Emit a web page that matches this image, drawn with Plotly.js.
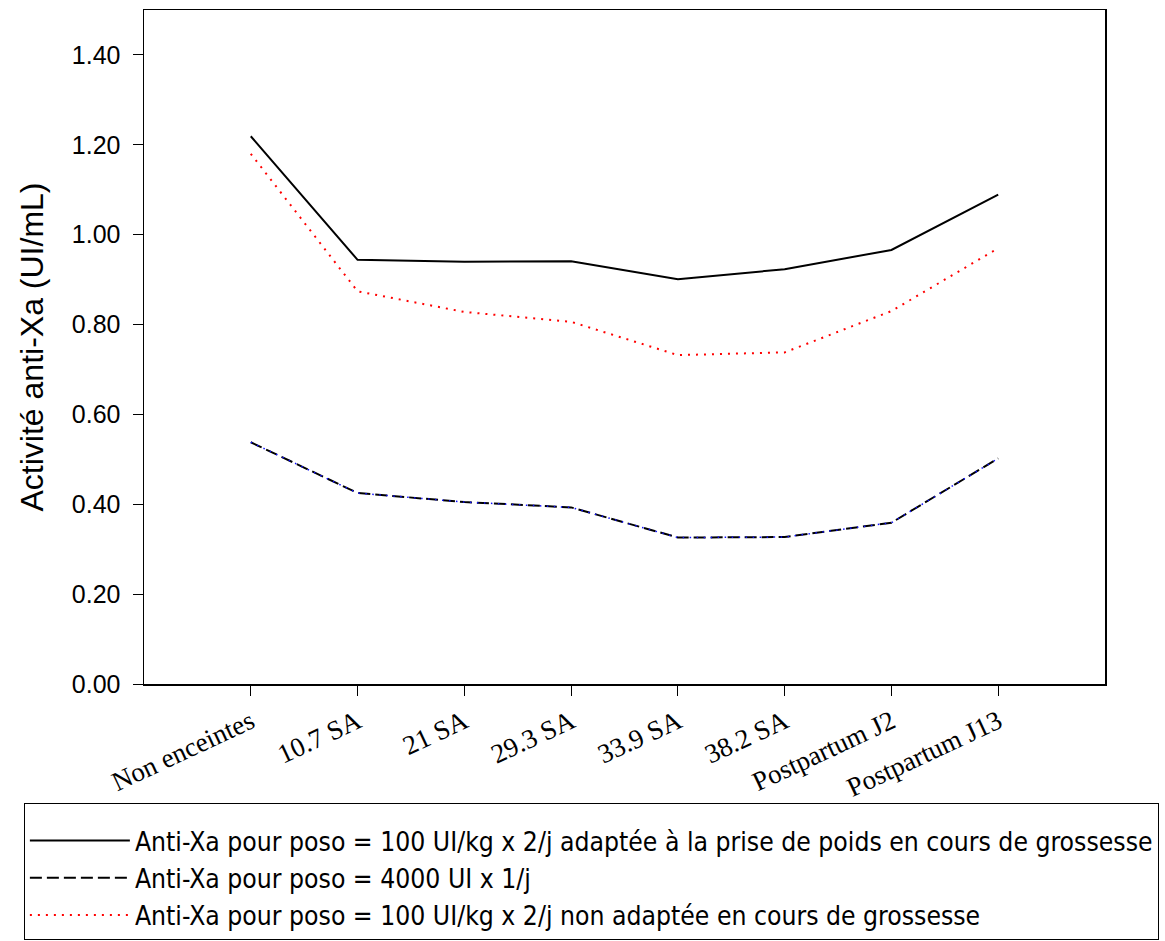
<!DOCTYPE html>
<html>
<head>
<meta charset="utf-8">
<script src="https://cdn.plot.ly/plotly-3.0.1.min.js"></script>
<style>html,body{margin:0;padding:0;background:#fff;}#chart{width:1165px;height:941px;}</style>
</head>
<body>
<div id="chart"></div>
<script>
// Categories (x axis)
const categories = ["Non enceintes", "10.7 SA", "21 SA", "29.3 SA", "33.9 SA", "38.2 SA", "Postpartum J2", "Postpartum J13"];

// Series values (Anti-Xa activity, UI/mL)
const adapted = [1.219, 0.944, 0.940, 0.941, 0.901, 0.923, 0.966, 1.089];
const fixedDose = [0.538, 0.425, 0.405, 0.393, 0.326, 0.327, 0.359, 0.502];
const notAdapted = [1.180, 0.874, 0.828, 0.806, 0.732, 0.738, 0.830, 0.970];

// Series names (legend)
const nameAdapted = "Anti-Xa pour poso = 100 UI/kg x 2/j adaptée à la prise de poids en cours de grossesse";
const nameFixed = "Anti-Xa pour poso = 4000 UI x 1/j";
const nameNotAdapted = "Anti-Xa pour poso = 100 UI/kg x 2/j non adaptée en cours de grossesse";

// Y tick values
const yTicks = [0, 0.2, 0.4, 0.6, 0.8, 1.0, 1.2, 1.4];
const yAxisTitle = "Activité anti-Xa (UI/mL)";

const traces = [
  {
    x: categories, y: adapted, type: "scatter", mode: "lines", name: nameAdapted,
    line: {color: "#000000", width: 2}, legendgroup: "g1"
  },
  {
    x: categories, y: fixedDose, type: "scatter", mode: "lines", name: nameFixed,
    line: {color: "#000000", width: 2, dash: "12px,5px"}, legendgroup: "g2"
  },
  {
    x: categories, y: fixedDose, type: "scatter", mode: "lines",
    line: {color: "#1010ff", width: 1.5, dash: "1.5px,5.5px"},
    showlegend: false, hoverinfo: "skip", legendgroup: "g2"
  },
  {
    x: categories, y: notAdapted, type: "scatter", mode: "lines", name: nameNotAdapted,
    line: {color: "#ff0000", width: 2, dash: "2px,6px"}, legendgroup: "g3"
  }
];

const layout = {
  width: 1165, height: 941,
  margin: {l: 144, r: 60, t: 10, b: 257, autoexpand: false},
  paper_bgcolor: "#ffffff", plot_bgcolor: "#ffffff",
  showlegend: true,
  legend: {
    x: -0.125, y: -0.1766, xanchor: "left", yanchor: "top",
    bordercolor: "#000000", borderwidth: 1,
    font: {family: "DejaVu Sans Condensed, DejaVu Sans", size: 26.3, color: "#000"},
    itemwidth: 100, tracegroupgap: 0,
    title: {text: " ", font: {size: 10}}
  },
  xaxis: {
    type: "category", range: [-1, 8], automargin: false,
    showline: true, linecolor: "#000", linewidth: 1.5, mirror: true,
    ticks: "outside", ticklen: 10, tickcolor: "#000", tickwidth: 1,
    tickangle: -25, showgrid: false, zeroline: false,
    tickfont: {family: "Liberation Serif, Times New Roman, serif", size: 27, color: "#000"}
  },
  yaxis: {
    range: [0, 1.5], tickvals: yTicks, tickformat: ".2f", automargin: false,
    showline: true, linecolor: "#000", linewidth: 1.5, mirror: true,
    ticks: "outside", ticklen: 10, tickcolor: "#000", tickwidth: 1,
    ticklabelstandoff: 7,
    showgrid: false, zeroline: false,
    tickfont: {family: "Liberation Sans, Arial, sans-serif", size: 25, color: "#000"},
    title: {text: yAxisTitle, standoff: 18, font: {family: "Liberation Sans, Arial, sans-serif", size: 32, color: "#000"}}
  }
};

Plotly.newPlot("chart", traces, layout, {displayModeBar: false, staticPlot: true});
</script>
</body>
</html>
